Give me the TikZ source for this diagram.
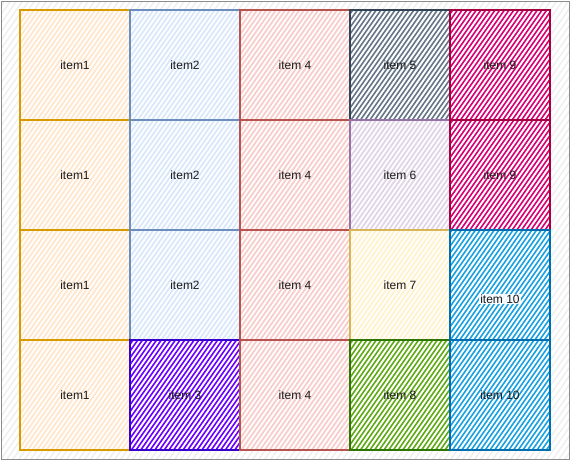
\documentclass[tikz,border=0pt]{standalone}
\usepackage{fontspec}
\setmainfont{Liberation Sans}
\definecolor{orangeS}{HTML}{D79B00}\definecolor{orangeF}{HTML}{FFE6CC}
\definecolor{blueS}{HTML}{6C8EBF}\definecolor{blueF}{HTML}{DAE8FC}
\definecolor{redS}{HTML}{B85450}\definecolor{redF}{HTML}{F8CECC}
\definecolor{grayS}{HTML}{314354}\definecolor{grayF}{HTML}{647687}
\definecolor{purpS}{HTML}{9673A6}\definecolor{purpF}{HTML}{E1D5E7}
\definecolor{yelS}{HTML}{D6B656}\definecolor{yelF}{HTML}{FFF2CC}
\definecolor{greenS}{HTML}{2D7600}\definecolor{greenF}{HTML}{60A917}
\definecolor{pinkS}{HTML}{A50040}\definecolor{pinkF}{HTML}{D80073}
\definecolor{cyanS}{HTML}{006EAF}\definecolor{cyanF}{HTML}{1BA1E2}
\definecolor{violetS}{HTML}{3700CC}\definecolor{violetF}{HTML}{6A00FF}
\definecolor{txt}{HTML}{1A1A1A}
\definecolor{frameS}{HTML}{8C8C8C}\definecolor{frameF}{HTML}{EDEDED}
\tikzset{
  cellbase/.style={rectangle, inner sep=0pt, outer sep=0pt, line width=1.2pt,
    font=\fontsize{12}{14}\selectfont, text=txt, minimum height=110pt, fill=white},
  hatchcell/.style n args={3}{cellbase, draw=#1,
    path picture={\foreach \d in {-115,-110.3,...,115}
      \draw[#2, line width=#3, shift={(path picture bounding box.center)}]
        ({\d-50},72) -- ++(100,-143);}},
  lightcell/.style 2 args={hatchcell={#1}{#2}{1.8pt}},
  darkcell/.style 2 args={hatchcell={#1}{#2}{1.6pt}},
  wide/.style={minimum width=110pt},
  narrow/.style={minimum width=100pt},
  framebox/.style={rectangle, inner sep=0pt, draw=frameS, line width=1.5pt, fill=white,
    path picture={\foreach \d in {-460,-454,...,460}
      \draw[frameF, line width=1.2pt, shift={(path picture bounding box.center)}]
        ({\d-165},235) -- ++(330,-470);}}
}
\begin{document}
\begin{tikzpicture}[x=1pt,y=-1pt]
\useasboundingbox (0,0) rectangle (571,461);
\node[framebox, minimum width=568pt, minimum height=458pt] (frame) at (285.5,230.5) {};
% column 1
\node[lightcell={orangeS}{orangeF}, wide] (a1) at (75,65) {item1};
\node[lightcell={orangeS}{orangeF}, wide] (a2) at (75,175) {item1};
\node[lightcell={orangeS}{orangeF}, wide] (a3) at (75,285) {item1};
\node[lightcell={orangeS}{orangeF}, wide] (a4) at (75,395) {item1};
% column 2
\node[lightcell={blueS}{blueF}, wide] (b1) at (185,65) {item2};
\node[lightcell={blueS}{blueF}, wide] (b2) at (185,175) {item2};
\node[lightcell={blueS}{blueF}, wide] (b3) at (185,285) {item2};
\node[darkcell={violetS}{violetF}, wide] (b4) at (185,395) {item 3};
% column 3
\node[lightcell={redS}{redF}, wide] (c1) at (295,65) {item 4};
\node[lightcell={redS}{redF}, wide] (c2) at (295,175) {item 4};
\node[lightcell={redS}{redF}, wide] (c3) at (295,285) {item 4};
\node[lightcell={redS}{redF}, wide] (c4) at (295,395) {item 4};
% column 4
\node[darkcell={grayS}{grayF}, narrow] (d1) at (400,65) {item 5};
\node[lightcell={purpS}{purpF}, narrow] (d2) at (400,175) {item 6};
\node[lightcell={yelS}{yelF}, narrow] (d3) at (400,285) {item 7};
\node[darkcell={greenS}{greenF}, narrow] (d4) at (400,395) {item 8};
% column 5
\node[darkcell={pinkS}{pinkF}, narrow] (e1) at (500,65) {item 9};
\node[darkcell={pinkS}{pinkF}, narrow] (e2) at (500,175) {item 9};
\node[darkcell={cyanS}{cyanF}, narrow,
  label={[yshift=-14pt, fill=white, fill opacity=0.9, text opacity=1, inner sep=1pt, font=\fontsize{12}{14}\selectfont, text=txt]center:item 10}] (e3) at (500,285) {};
\node[darkcell={cyanS}{cyanF}, narrow] (e4) at (500,395) {item 10};
\end{tikzpicture}
\end{document}
